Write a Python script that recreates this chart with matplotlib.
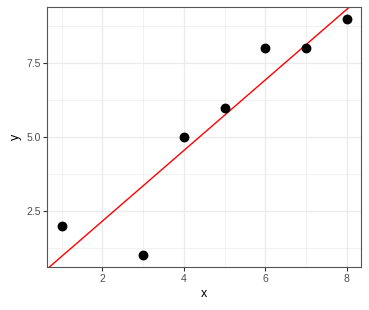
import numpy as np
import matplotlib
matplotlib.use("Agg")
import matplotlib.pyplot as plt
from matplotlib.ticker import MultipleLocator

x = [1, 3, 4, 5, 6, 7, 8]
y = [2, 1, 5, 6, 8, 8, 9]

plt.rcParams["font.family"] = ["Liberation Sans", "DejaVu Sans"]

fig = plt.figure(figsize=(3.69, 3.10), dpi=100)
ax = fig.add_axes([0.1287, 0.1377, 0.8495, 0.8397])

ax.set_xlim(0.65, 8.35)
ax.set_ylim(0.6, 9.4)

ax.xaxis.set_major_locator(MultipleLocator(2))
ax.xaxis.set_minor_locator(MultipleLocator(1))
ax.yaxis.set_major_locator(MultipleLocator(2.5))
ax.yaxis.set_minor_locator(MultipleLocator(1.25))
ax.set_yticks([2.5, 5.0, 7.5])
ax.set_yticklabels(["2.5", "5.0", "7.5"])

ax.grid(which="major", color="#ebebeb", linewidth=1.0)
ax.grid(which="minor", color="#ebebeb", linewidth=0.5)
ax.set_axisbelow(True)

for s in ax.spines.values():
    s.set_color("#555555")
    s.set_linewidth(0.8)

ax.tick_params(which="major", length=3, width=0.8, color="#333333",
               labelsize=7.5, labelcolor="#4d4d4d", pad=2)
ax.tick_params(which="minor", length=0)

ax.scatter(x, y, s=50, color="black", zorder=3, linewidths=0)

# least-squares line across the panel
slope, icpt = np.polyfit(x, y, 1)
ax.axline((0, icpt), slope=slope, color="red", linewidth=1.0, zorder=2)

ax.set_xlabel("x", fontsize=9, labelpad=3)
ax.set_ylabel("y", fontsize=9, labelpad=3)

fig.savefig("out.png", dpi=100)
